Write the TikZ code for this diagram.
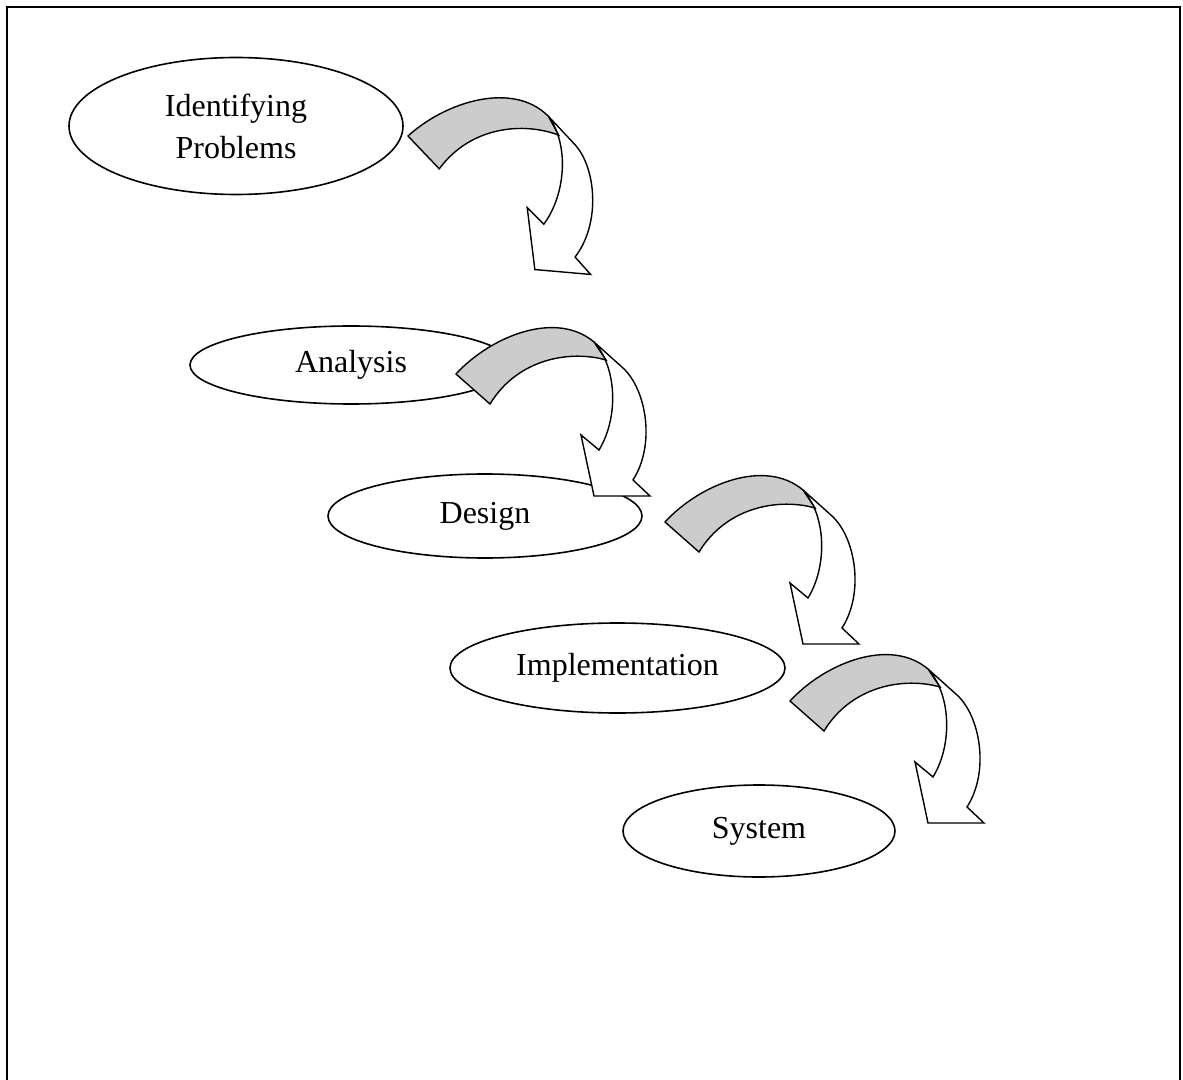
\documentclass[tikz,border=0pt]{standalone}
\usepackage{fontspec}
\setmainfont{Liberation Serif}
\usepackage{tikz}
\usetikzlibrary{shapes}
\newcommand{\stage}[6]{\node[shape=ellipse,draw,line width=0.8pt,fill=white,inner sep=0pt,minimum width=#4pt,minimum height=#5pt,align=center] (#1) at ( #2 , #3 ) {#6};}
\newcommand{\bentarrow}[3]{
  \begin{scope}[shift={( #1 , #2 )},rotate=#3]
    \draw[line width=0.7pt,fill=white] (138,-32) -- (167,-6) .. controls (190,15) and (200,70) .. (177,106) -- (194,122) -- (138,122) -- (125,61) -- (143,76) .. controls (162,45) and (162,-5) .. (138,-32) -- cycle;
    \draw[line width=0.7pt,fill=black!20] (0,0) .. controls (35,-38) and (100,-64) .. (138,-32) -- (150,-14) .. controls (115,-24) and (62,-16) .. (34,30) -- cycle;
  \end{scope}}

\begin{document}
\begin{tikzpicture}[x=0.5pt,y=-0.5pt,font=\fontsize{16}{21}\selectfont]
        \useasboundingbox (0,0) rectangle (1183,1080);
        % frame
        \draw[line width=1pt] (7,1090) -- (7,7) -- (1180,7) -- (1180,1090);
        % stages
        \stage{ident}{236}{126}{167}{68.5}{Identifying\\Problems}
        \stage{anal}{351}{365}{161}{39}{Analysis}
        \stage{desg}{485}{516}{157}{42}{Design}
        \stage{impl}{617.5}{668}{167.5}{45}{Implementation}
        \stage{syst}{759}{831}{136}{46}{System}
        % arrows
        \bentarrow{408}{136}{-5}
        \bentarrow{456}{374}{0}
        \bentarrow{665}{522}{0}
        \bentarrow{790}{701}{0}
\end{tikzpicture}
\end{document}
